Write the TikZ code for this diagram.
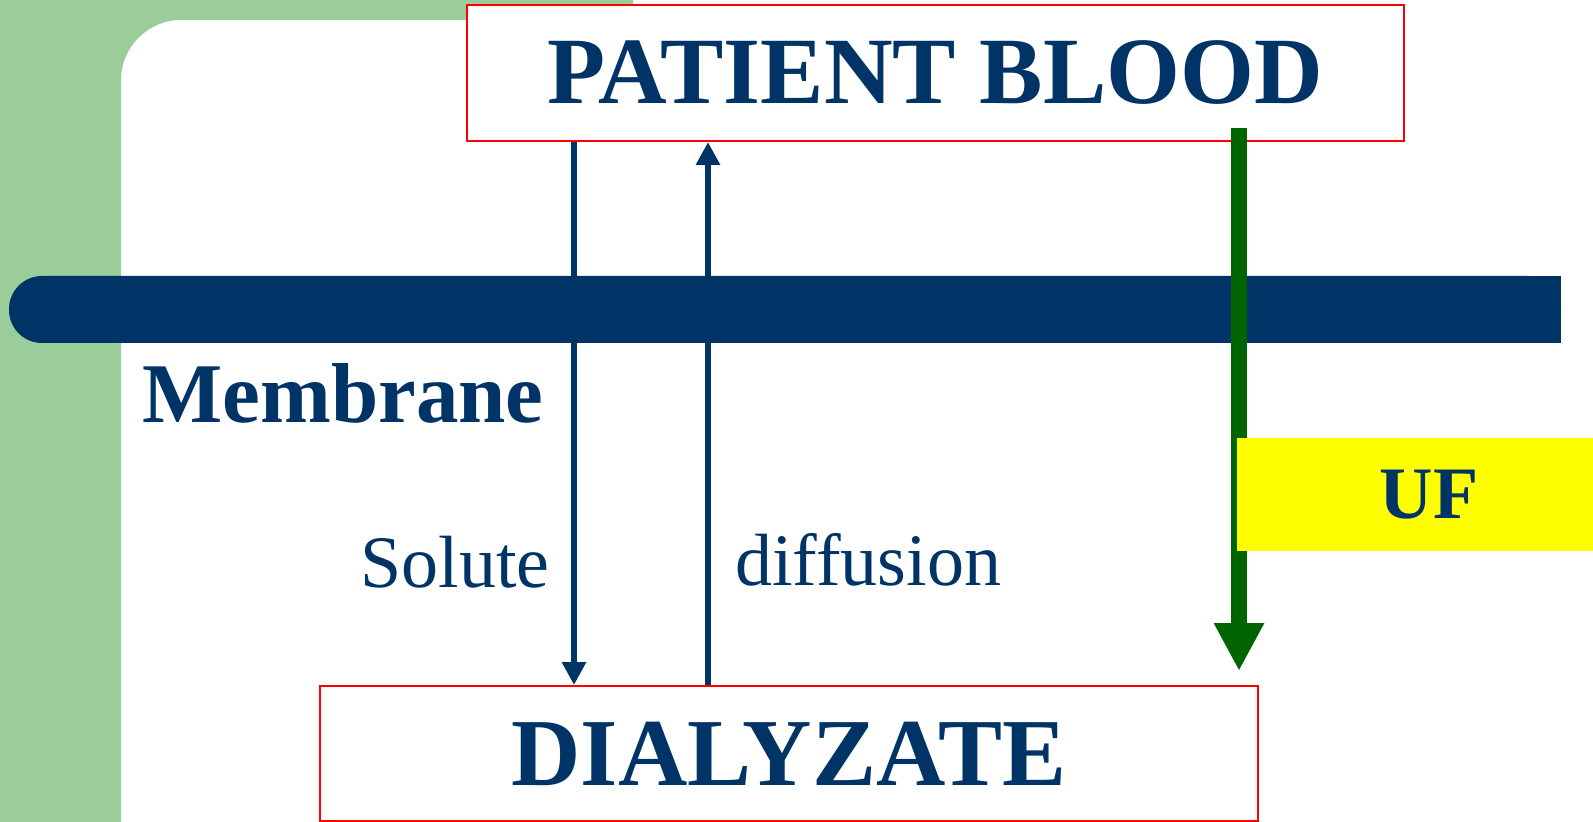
\documentclass[tikz,border=0pt]{standalone}
\usepackage{fontspec}
\setmainfont{Liberation Serif}
\usetikzlibrary{arrows.meta}
\definecolor{navy}{RGB}{0,51,102}
\definecolor{sage}{RGB}{155,205,155}
\definecolor{ufgreen}{RGB}{0,100,0}
\definecolor{ufyellow}{RGB}{255,255,0}
\tikzstyle{box}=[rectangle,draw=red,line width=1pt,fill=white,text=navy,inner sep=0pt]
\tikzstyle{flow}=[-{Triangle[width=11.5pt,length=11.5pt]},line width=3pt,navy]
\tikzstyle{flowUF}=[-{Triangle[width=23.5pt,length=24pt]},line width=8pt,ufgreen]
\tikzstyle{lbl}=[inner sep=0pt,text=navy,anchor=base west]

\begin{document}
\begin{tikzpicture}[x=0.5pt,y=-0.5pt]
  \useasboundingbox (0,0) rectangle (1593,822);
  % slide background
  \fill[sage] (0,0) -- (633,0) -- (633,20) -- (181,20) .. controls (148,20) and (121,47) .. (121,80) -- (121,822) -- (0,822) -- cycle;

  \node[box,minimum width=468.5pt,minimum height=68pt,font=\fontsize{47.5}{50}\selectfont\bfseries] (P) at (935.5,73) {PATIENT BLOOD};
  \node[box,minimum width=469pt,minimum height=67.5pt,font=\fontsize{48}{50}\selectfont\bfseries] (D) at (789,753.5) {DIALYZATE};

  \coordinate (sx) at (574,0);
  \coordinate (dx) at (708,0);
  \coordinate (ufx) at (1239,0);
  \coordinate (ufe) at (1239,671);
  \draw[flow] (P.south -| sx) -- (D.north -| sx);
  \draw[flow] (D.north -| dx) -- (P.south -| dx);

  % membrane
  \fill[navy,rounded corners=16.5pt] (9,276) rectangle (1561,343);
  \fill[navy] (1400,276) rectangle (1561,343);

  \draw[flowUF] ([yshift=7pt]P.south -| ufx) -- (ufe);
  \node[fill=ufyellow,minimum width=178pt,minimum height=56.5pt,inner sep=0pt,text=navy,font=\fontsize{37}{40}\selectfont\bfseries] (UF) at (1415,494.5) {\hspace*{14pt}UF};

  \node[lbl,font=\fontsize{42.5}{45}\selectfont\bfseries] (mem) at (142,423) {Membrane};
  \node[lbl,font=\fontsize{37}{40}\selectfont] (sol) at (360,587) {Solute};
  \node[lbl,font=\fontsize{37}{40}\selectfont] (dif) at (735,585) {diffusion};
\end{tikzpicture}
\end{document}
